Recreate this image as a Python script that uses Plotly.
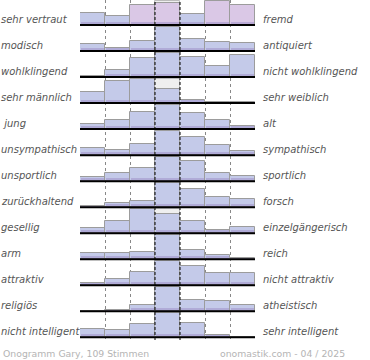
import plotly.graph_objects as go

left_labels = ["sehr vertraut", "modisch", "wohlklingend", "sehr männlich", " jung",
               "unsympathisch", "unsportlich", "zurückhaltend", "gesellig", "arm",
               "attraktiv", "religiös", "nicht intelligent"]
right_labels = ["fremd", "antiquiert", "nicht wohlklingend", "sehr weiblich", "alt",
                "sympathisch", "sportlich", "forsch", "einzelgängerisch", "reich",
                "nicht attraktiv", "atheistisch", "sehr intelligent"]

# relative vote share per scale step (max of each row = 100)
values = [
    [51, 38, 82, 92, 45, 100, 82],
    [29, 13, 42, 100, 52, 38, 33],
    [4, 30, 78, 100, 85, 47, 90],
    [45, 90, 100, 57, 11, 4, 6],
    [22, 36, 70, 100, 68, 40, 14],
    [28, 21, 47, 100, 76, 42, 17],
    [18, 36, 53, 100, 82, 32, 21],
    [7, 18, 24, 100, 76, 42, 33],
    [22, 51, 100, 79, 49, 15, 24],
    [26, 26, 32, 100, 39, 17, 7],
    [10, 26, 57, 100, 82, 51, 51],
    [1, 7, 25, 100, 47, 42, 25],
    [33, 29, 54, 100, 58, 11, 1],
]
footer_left = "Onogramm Gary, 109 Stimmen"
footer_right = "onomastik.com - 04 / 2025"

# styling
n_rows = len(values)
n_cols = 7
full = 24 / 26            # bar height at 100 (in row units)
bottom_band = 3 / 26
blue = "#c4cae9"
pink = "#dac8e6"
pink_row = 0
pink_cols = [2, 3, 5, 6]

fig = go.Figure()

xs, bases, hs, cols = [], [], [], []
bx, bb, bh = [], [], []
gx, gb, gh = [], [], []
for i, row in enumerate(values):
    base = n_rows - 1 - i
    gx.append(3); gb.append(base); gh.append(full)
    for j, v in enumerate(row):
        h = v / 100 * full
        xs.append(j); bases.append(base); hs.append(h)
        cols.append(pink if (i == pink_row and j in pink_cols) else blue)
        bx.append(j); bb.append(base); bh.append(min(h, bottom_band))

fig.add_trace(go.Bar(x=gx, y=gh, base=gb, width=1, marker=dict(color="#efefef", line=dict(color="#bbbbbb", width=1)),
                     hoverinfo="skip"))
fig.add_trace(go.Bar(x=xs, y=hs, base=bases, width=1, marker=dict(color=cols, line=dict(color="#9c9c9c", width=1)),
                     hoverinfo="skip"))
fig.add_trace(go.Bar(x=bx, y=bh, base=bb, width=0.95, marker=dict(color="rgba(160,145,200,0.55)", line=dict(width=0)),
                     hoverinfo="skip"))

ymin, ymax = -0.104, n_rows - 1 + 25 / 26
# dashed centre lines
dx, dy = [], []
for b in [2.5, 3.5]:
    dx += [b, b, None]; dy += [ymin, ymax, None]
fig.add_trace(go.Scatter(x=dx, y=dy, mode="lines", line=dict(color="black", width=1, dash="3px,2px"),
                         hoverinfo="skip"))
# baselines
lx, ly = [], []
for i in range(n_rows):
    base = n_rows - 1 - i
    lx += [-0.5, 6.5, None]; ly += [base, base, None]
fig.add_trace(go.Scatter(x=lx, y=ly, mode="lines", line=dict(color="black", width=2), hoverinfo="skip"))

ann = []
for i in range(n_rows):
    base = n_rows - 1 - i
    ann.append(dict(x=-80 / 175, xref="paper", y=base + 5.5 / 26, yref="y", xanchor="left", yanchor="middle",
                    text="<i>" + left_labels[i] + "</i>", showarrow=False, borderpad=0,
                    font=dict(family="DejaVu Sans", size=10, color="#555555")))
    ann.append(dict(x=(262 - 80) / 175, xref="paper", y=base + 5.5 / 26, yref="y", xanchor="left", yanchor="middle",
                    text="<i>" + right_labels[i] + "</i>", showarrow=False, borderpad=0,
                    font=dict(family="DejaVu Sans", size=10, color="#555555")))
ann.append(dict(x=-78 / 175, xref="paper", y=-13 / 340, yref="paper", xanchor="left", yanchor="middle",
                text=footer_left, showarrow=False, borderpad=0,
                font=dict(family="DejaVu Sans", size=9.3, color="#b4b4b4")))
ann.append(dict(x=(346 - 80) / 175, xref="paper", y=-13 / 340, yref="paper", xanchor="right", yanchor="middle",
                text=footer_right, showarrow=False, borderpad=0,
                font=dict(family="DejaVu Sans", size=9.3, color="#b4b4b4")))

fig.update_layout(
    width=370, height=360,
    margin=dict(l=80, r=115, t=0, b=20),
    paper_bgcolor="white", plot_bgcolor="white",
    barmode="overlay", bargap=0, showlegend=False,
    annotations=ann,
    xaxis=dict(range=[-0.5, 6.5], tickvals=[-0.5, 0.5, 1.5, 4.5, 5.5, 6.5], showticklabels=False,
               showgrid=True, gridcolor="#888888", griddash="dot", gridwidth=1, zeroline=False, fixedrange=True,
               ticks=""),
    yaxis=dict(range=[ymin, ymax], showgrid=False, zeroline=False, showticklabels=False, fixedrange=True),
)

fig.write_html("out.html", config={"displayModeBar": False},
               post_script="document.body.style.margin='0';document.body.style.overflow='hidden';")
